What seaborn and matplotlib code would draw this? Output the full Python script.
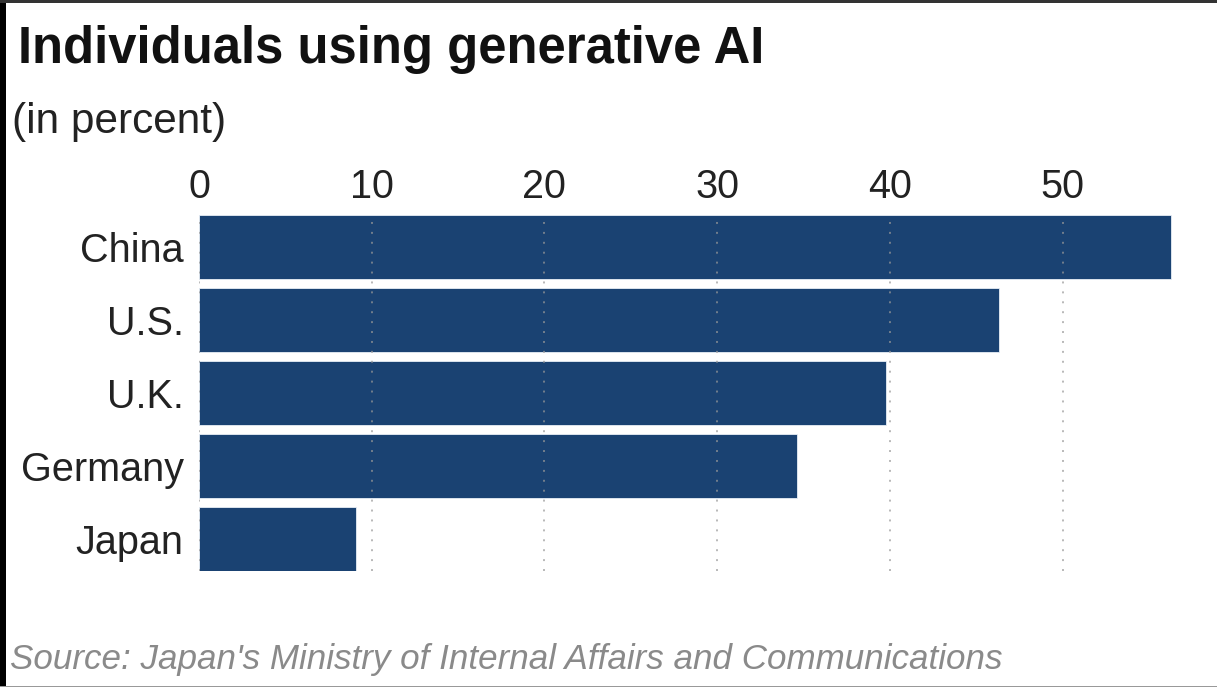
import matplotlib
matplotlib.use("Agg")
import matplotlib.pyplot as plt
from matplotlib.patches import Rectangle
import seaborn as sns

# Share of individuals using generative AI (percent)
countries = ["China", "U.S.", "U.K.", "Germany", "Japan"]
usage_pct = [56.3, 46.3, 39.8, 34.6, 9.1]
x_ticks = [0, 10, 20, 30, 40, 50]

title = "Individuals using generative AI"
subtitle = "(in percent)"
source = "Source: Japan's Ministry of Internal Affairs and Communications"

W, H = 1217, 687
BAR_COLOR = "#1a4272"

sns.set_theme(style="white")
plt.rcParams["font.family"] = ["Liberation Sans", "DejaVu Sans"]

fig = plt.figure(figsize=(W / 100, H / 100), dpi=100)
fig.patch.set_facecolor("white")

x_max = 57.5
px_per_unit = (1062.5 - 199) / 50
left_px, top_px, bottom_px = 199, 215, 571
right_px = left_px + x_max * px_per_unit
ax = fig.add_axes([left_px / W, 1 - bottom_px / H,
                   (right_px - left_px) / W, (bottom_px - top_px) / H])

sns.barplot(x=usage_pct, y=countries, orient="h", color=BAR_COLOR,
            saturation=1, width=0.88, edgecolor="#e8eef6", linewidth=0.6,
            ax=ax, zorder=2)

ax.set_xlim(0, x_max)
ax.set_ylim(4.44, -0.44)
ax.set_xticks(x_ticks)
ax.set_xticklabels([str(t) for t in x_ticks])
ax.xaxis.tick_top()
ax.tick_params(axis="x", top=False, bottom=False, labeltop=True,
               labelbottom=False, labelsize=28.5, pad=0.5, colors="#222222")
ax.tick_params(axis="y", left=False, labelsize=28.5, pad=5, colors="#222222")
ax.set_xlabel("")
ax.set_ylabel("")
for sp in ax.spines.values():
    sp.set_visible(False)

# dotted vertical guides, drawn faintly over the bars
ax.set_axisbelow(False)
ax.xaxis.grid(True, color="#999999", alpha=0.7, linewidth=1.4,
              linestyle=(0, (1, 4.1)), zorder=3)
ax.yaxis.grid(False)

# headings and source line
fig.text(18 / W, 1 - 63 / H, title, fontsize=36.5, fontweight="bold",
         color="#111111", ha="left", va="baseline")
fig.text(12 / W, 1 - 133 / H, subtitle, fontsize=30.5,
         color="#222222", ha="left", va="baseline")
fig.text(10 / W, 1 - 669 / H, source, fontsize=25.2, fontstyle="italic",
         color="#8a8a8a", ha="left", va="baseline")

# frame edges
fig.patches.append(Rectangle((0, 0), 6 / W, 1, transform=fig.transFigure,
                             facecolor="black", edgecolor="none", zorder=10))
fig.patches.append(Rectangle((0, 1 - 2.5 / H), 1, 2.5 / H, transform=fig.transFigure,
                             facecolor="#333333", edgecolor="none", zorder=10))
fig.patches.append(Rectangle((0, 0), 1, 1.5 / H, transform=fig.transFigure,
                             facecolor="#999999", edgecolor="none", zorder=10))

fig.savefig("out.png", dpi=100, facecolor="white")
